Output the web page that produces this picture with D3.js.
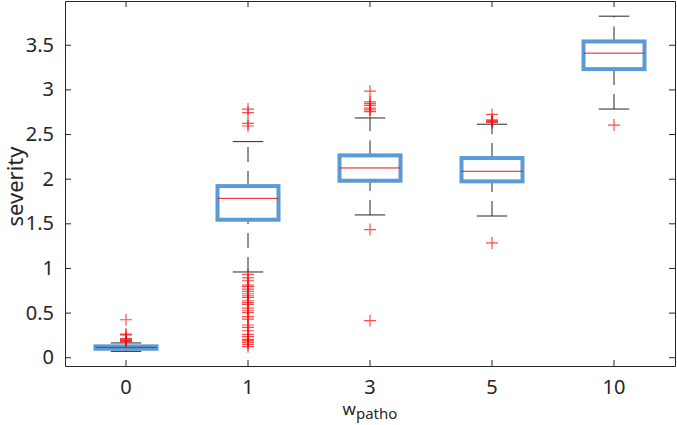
<!DOCTYPE html>
<html>
<head>
<meta charset="utf-8">
<script src="https://cdn.jsdelivr.net/npm/d3@7"></script>
<style>
  body { margin: 0; background: #fff; }
  text { font-family: "Noto Sans", sans-serif; fill: #262626; }
</style>
</head>
<body>
<svg class="box-frame"></svg>
<script>
// box statistics, one entry per w_patho group
const groups   = ["0", "1", "3", "5", "10"];
const medians  = [0.11, 1.78, 2.12, 2.083, 3.406];
const q1s      = [0.095, 1.54, 1.977, 1.97, 3.227];
const q3s      = [0.122, 1.917, 2.261, 2.231, 3.537];
const whiskLo  = [0.066, 0.955, 1.594, 1.582, 2.78];
const whiskHi  = [0.16, 2.415, 2.68, 2.61, 3.82];
const outliers = [
  [0.42, 0.26, 0.25, 0.21, 0.2, 0.19, 0.18, 0.175],
  [2.78, 2.74, 2.62, 2.59,
   0.928, 0.89, 0.857, 0.808, 0.79, 0.764, 0.738, 0.711, 0.689, 0.671, 0.633,
   0.611, 0.593, 0.55, 0.521, 0.5, 0.454, 0.428, 0.361, 0.335, 0.297, 0.256,
   0.23, 0.2, 0.186, 0.167, 0.144, 0.118],
  [2.98, 2.86, 2.84, 2.82, 2.79, 2.77, 2.75, 1.43, 0.41],
  [2.72, 2.66, 2.65, 2.64, 2.63, 1.28],
  [2.6]
];
const yTicks = [0, 0.5, 1, 1.5, 2, 2.5, 3, 3.5];

const margin = {top: 1, right: 2, bottom: 59, left: 65}
  , width = 677 - margin.left - margin.right
  , height = 425 - margin.top - margin.bottom;

const svg = d3.select(".box-frame")
  .attr("width", width + margin.left + margin.right)
  .attr("height", height + margin.top + margin.bottom);

const graph = svg.append("g")
  .attr("transform", "translate(" + margin.left + "," + margin.top + ")");

const xScale = d3.scaleBand()
  .range([0, width])
  .domain(groups)
  .padding(0);

const yScale = d3.scaleLinear()
  .range([height, 0])
  .domain([-0.098, 3.99]);

const boxW = xScale.bandwidth() * 0.5;
const capW = xScale.bandwidth() * 0.25;
const cx = (g) => xScale(g) + xScale.bandwidth() / 2;

// axes, ticks pointing inward on all four sides
graph.append("g")
  .attr("class", "axis")
  .call(d3.axisLeft(yScale).tickValues(yTicks).tickSize(-6).tickSizeOuter(0).tickPadding(11)
    .tickFormat(d3.format("")))
  .call(g => g.selectAll("text").style("font-size", "20px"));

graph.append("g")
  .attr("class", "axis")
  .attr("transform", "translate(0," + height + ")")
  .call(d3.axisBottom(xScale).tickSize(-6).tickSizeOuter(0).tickPadding(14))
  .call(g => g.selectAll("text").style("font-size", "20px"));

graph.append("g")
  .attr("class", "axis")
  .attr("transform", "translate(" + width + ",0)")
  .call(d3.axisRight(yScale).tickValues(yTicks).tickSize(-6).tickSizeOuter(0).tickFormat(""));

graph.append("g")
  .attr("class", "axis")
  .call(d3.axisTop(xScale).tickSize(-6).tickSizeOuter(0).tickFormat(""));

graph.selectAll(".axis path, .axis line")
  .attr("stroke", "#262626");

const boxes = graph.selectAll(".box")
  .data(groups)
  .enter().append("g")
  .attr("class", "box");

// whiskers, dashed, drawn from the lower end up
boxes.append("line")
  .attr("x1", cx).attr("x2", cx)
  .attr("y1", (d, i) => yScale(q3s[i]))
  .attr("y2", (d, i) => yScale(whiskHi[i]))
  .attr("stroke", "#262626")
  .attr("stroke-dasharray", "15,9");

boxes.append("line")
  .attr("x1", cx).attr("x2", cx)
  .attr("y1", (d, i) => yScale(whiskLo[i]))
  .attr("y2", (d, i) => yScale(q1s[i]))
  .attr("stroke", "#262626")
  .attr("stroke-dasharray", "15,9");

// caps
[whiskLo, whiskHi].forEach(arr => {
  boxes.append("line")
    .attr("x1", d => cx(d) - capW / 2)
    .attr("x2", d => cx(d) + capW / 2)
    .attr("y1", (d, i) => yScale(arr[i]))
    .attr("y2", (d, i) => yScale(arr[i]))
    .attr("stroke", "#262626");
});

boxes.append("rect")
  .attr("x", d => cx(d) - boxW / 2)
  .attr("width", boxW)
  .attr("y", (d, i) => yScale(q3s[i]))
  .attr("height", (d, i) => yScale(q1s[i]) - yScale(q3s[i]))
  .attr("fill", "none")
  .attr("stroke", "#5b9bd5")
  .attr("stroke-width", 4);

boxes.append("line")
  .attr("x1", d => cx(d) - boxW / 2)
  .attr("x2", d => cx(d) + boxW / 2)
  .attr("y1", (d, i) => yScale(medians[i]))
  .attr("y2", (d, i) => yScale(medians[i]))
  .attr("stroke", "#ee1111")
  .attr("stroke-width", 1);

// outliers as red crosses
boxes.each(function(d, i) {
  d3.select(this).selectAll(".out")
    .data(outliers[i])
    .enter().append("path")
    .attr("class", "out")
    .attr("d", "M-6,0H6M0,-6V6")
    .attr("transform", v => "translate(" + cx(d) + "," + yScale(v) + ")")
    .attr("stroke", "red")
    .attr("stroke-opacity", 0.7)
    .attr("stroke-width", 1.2)
    .attr("fill", "none");
});

// axis labels
svg.append("text")
  .attr("transform", "translate(22.5," + (margin.top + height / 2 + 3) + ") rotate(-90)")
  .attr("text-anchor", "middle")
  .style("font-size", "22px")
  .text("severity");

const xlab = svg.append("text")
  .attr("x", margin.left + width / 2)
  .attr("y", 415)
  .attr("text-anchor", "middle")
  .style("font-size", "17px");
xlab.append("tspan").text("w");
xlab.append("tspan")
  .attr("dy", 4)
  .style("font-size", "15px")
  .text("patho");
</script>
</body>
</html>
